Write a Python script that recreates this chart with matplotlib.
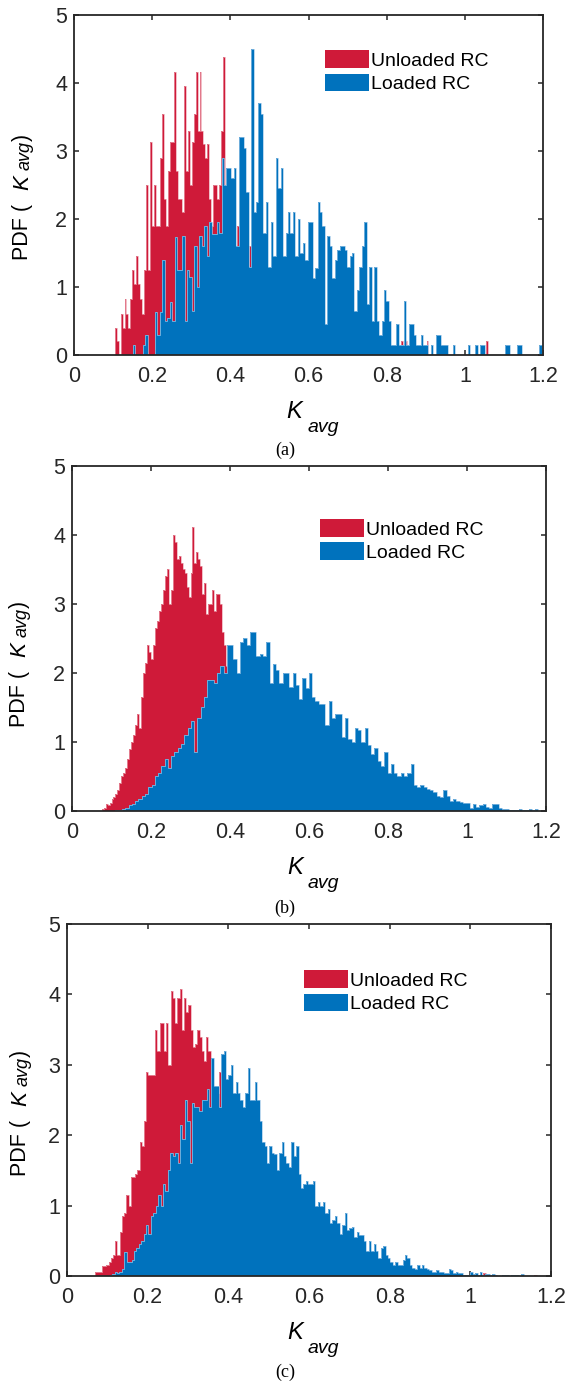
import numpy as np
import matplotlib
matplotlib.use('Agg')
import matplotlib.pyplot as plt
from matplotlib.patches import Patch
from matplotlib.transforms import ScaledTranslation

# 字体设置
plt.rcParams['font.family'] = ['Liberation Sans', 'DejaVu Sans']

# 数据（从图中读取的各柱高度，PDF）
series_names = ['Unloaded RC', 'Loaded RC']
x_ticks = [0, 0.2, 0.4, 0.6, 0.8, 1.0, 1.2]
x_tick_labels = ['0', '0.2', '0.4', '0.6', '0.8', '1', '1.2']
y_ticks = [0, 1, 2, 3, 4, 5]
captions = ['(a)', '(b)', '(c)']

# (a)
a_red_start, a_red_width = 0.104, 0.00505
a_red = [0.4, 0.2, 0.0, 0.6, 0.4, 0.83, 0.6, 0.4, 0.83, 1.25,
         1.05, 1.46, 1.05, 0.83, 0.6, 1.25, 2.5, 1.25, 3.13, 1.9,
         2.5, 1.9, 1.9, 2.9, 3.55, 2.3, 1.9, 2.7, 3.13, 3.13,
         4.17, 2.7, 2.3, 2.3, 2.1, 3.96, 2.7, 3.3, 2.5, 3.13,
         3.55, 4.17, 3.3, 4.17, 3.3, 3.1, 2.9, 3.1, 2.3, 1.9,
         2.5, 2.5, 2.3, 2.5, 3.3, 4.38, 2.1, 2.5,
         2.1, 1.7, 1.9, 1.5, 1.9, 1.2, 1.4, 1.1, 1.3, 0.9,
         1.6, 1.0, 1.0, 0.8, 0.9, 0.6, 0.8, 0.4, 0.6, 0.8,
         0.4, 0.6, 0.4, 0.4, 0.6, 0.2, 0.4, 0.2, 0.4, 0.2,
         0.2, 0.4, 0.2, 0.0, 0.2, 0.2, 0.0, 0.2, 0.2, 0.0,
         0.2, 0.0, 0.2] + [0.0] * 44 + [0.2, 0.0, 0.2, 0.0, 0.0, 0.2] \
        + [0.0] * 7 + [0.2] + [0.0] * 29 + [0.2]

a_blue_start, a_blue_width = 0.1506, 0.0063
a_blue = [0.15, 0.0, 0.0, 0.0, 0.15, 0.3, 0.0, 0.0, 0.0, 0.63,
          0.3, 0.63, 1.4, 0.5, 0.55, 0.78, 0.5, 1.74, 1.25, 1.25,
          1.75, 0.5, 1.25, 1.15, 0.65, 1.6, 1.0, 1.75, 1.6, 1.9,
          1.45, 1.95, 1.78, 1.78, 1.95, 1.8, 2.9, 2.5, 2.75, 2.75,
          2.6, 2.75, 1.6, 3.2, 3.2, 3.05, 2.4, 1.3, 4.5, 2.1,
          2.25, 3.7, 3.55, 1.8, 2.25, 1.3, 1.95, 1.45, 2.9, 2.45,
          2.75, 1.45, 1.8, 2.1, 1.8, 2.1, 1.45, 2.0, 1.5, 1.65,
          1.4,
          1.95, 1.95, 1.13, 1.28, 2.25, 2.1, 1.9, 0.45, 1.75, 1.6,
          1.13, 1.4, 1.55, 1.6, 1.6, 1.55, 1.3, 1.45, 1.5, 0.65,
          0.95, 1.3, 1.6, 1.95, 0.75, 1.3, 0.5, 1.3, 0.5, 0.3,
          0.5, 0.95, 0.8, 0.5, 0.15, 0.15, 0.45, 0.15, 0.15, 0.8,
          0.15, 0.45, 0.45, 0.3, 0.15, 0.15, 0.3, 0.15, 0.15, 0.0,
          0.15, 0.0, 0.3, 0.3, 0.15, 0.15, 0.15, 0.0, 0.0, 0.15,
          0.0, 0.0, 0.0, 0.0, 0.0, 0.15, 0.0, 0.0, 0.15, 0.0,
          0.15, 0.15, 0.0, 0.0, 0.0, 0.0, 0.0, 0.0, 0.0, 0.0,
          0.15, 0.15, 0.0, 0.0, 0.0, 0.15, 0.15, 0.0, 0.0, 0.0,
          0.0, 0.0, 0.0, 0.0, 0.15]

# (b)
b_red_start, b_red_width = 0.075, 0.005
b_red = [0.03, 0.05, 0.1, 0.08, 0.12, 0.18, 0.2, 0.25, 0.3, 0.4,
         0.5, 0.55, 0.62, 0.75, 0.9, 1.0, 1.1, 1.25, 1.4, 1.2,
         1.65, 2.0, 2.15, 2.4, 2.3, 2.2, 2.4, 2.65, 2.75, 2.9,
         3.0, 3.2, 3.4, 3.5, 3.0, 3.2, 4.0, 3.9, 3.65, 3.7,
         3.6, 3.5, 3.45, 3.25, 3.1, 3.45, 4.12, 3.6, 3.75, 3.65,
         3.55, 3.15, 3.3, 2.85, 3.0, 3.0, 3.2, 2.9, 3.15, 3.15,
         3.0, 2.6, 2.4, 2.1, 2.3, 2.0, 1.9,
         1.8, 1.7, 1.75, 1.6, 1.5, 1.55, 1.4, 1.3, 1.35, 1.2,
         1.1, 1.05, 1.0, 0.9, 0.85, 0.8, 0.75, 0.7, 0.6, 0.6,
         0.5, 0.5, 0.45, 0.4, 0.35, 0.35, 0.3, 0.25, 0.25, 0.2,
         0.2, 0.15, 0.15, 0.1, 0.1, 0.1, 0.05, 0.05, 0.05, 0.03]

b_blue_start, b_blue_width = 0.11, 0.0083
b_blue = [0.01, 0.02, 0.03, 0.05, 0.08, 0.1, 0.14, 0.18, 0.22, 0.25,
          0.35, 0.37, 0.5, 0.55, 0.65, 0.75, 0.62, 0.8, 0.85, 0.92,
          0.97, 1.1, 1.2, 1.3, 0.85, 1.35, 1.5, 1.65, 1.9, 1.9,
          1.85, 2.0, 2.1, 2.0, 2.4, 2.4, 2.2, 2.0, 2.45, 2.5,
          2.4, 2.6, 2.6, 2.25, 2.28, 2.25, 2.45, 1.85, 2.13, 2.05,
          1.85, 2.0, 2.0, 1.8, 2.0, 1.82, 1.62, 1.92, 1.78, 2.0,
          1.65, 1.6, 1.55, 1.55, 1.25, 1.6, 1.35, 1.4, 1.4, 1.07,
          1.35, 1.05, 1.0, 1.2, 1.18, 1.0, 1.2, 0.95, 0.82, 0.92,
          0.72, 0.65, 0.85, 0.55, 0.68, 0.55, 0.5, 0.55, 0.5, 0.55,
          0.68, 0.37, 0.35, 0.37, 0.35, 0.32, 0.3, 0.28, 0.22, 0.2,
          0.3, 0.22, 0.15, 0.18, 0.15, 0.13, 0.12, 0.12, 0.05, 0.1,
          0.06, 0.08, 0.1, 0.06, 0.05, 0.1, 0.1, 0.05, 0.03, 0.03,
          0.02, 0.02, 0.02, 0.03, 0.02, 0.02, 0.03, 0.02, 0.03]

# (c)
c_red_start, c_red_width = 0.07, 0.0055
c_red = [0.05, 0.05, 0.05, 0.14, 0.14, 0.16, 0.2, 0.25, 0.3, 0.5,
         0.3, 0.63, 0.85, 0.9, 1.15, 1.0, 1.4, 1.4, 1.45, 1.5,
         1.9, 1.85, 2.2, 2.9, 2.85, 2.85, 2.85, 3.5, 3.2, 3.6,
         3.6, 3.2, 3.6, 3.0, 4.05, 3.95, 3.6, 3.95, 4.07, 3.5,
         3.95, 3.75, 3.85, 3.5, 3.25, 3.3, 3.5, 3.4, 3.2, 3.05,
         3.4, 3.2, 3.0, 2.7, 2.7, 2.6, 2.9, 2.4, 2.3, 2.2,
         2.1, 2.0, 1.9, 1.85, 1.75, 1.6, 1.5, 1.4, 1.3, 1.2,
         1.1, 1.0, 0.9, 0.85, 0.8, 0.7, 0.6, 0.55, 0.5, 0.45,
         0.4, 0.35, 0.3, 0.28, 0.25, 0.2, 0.18, 0.15, 0.12, 0.1,
         0.1, 0.08, 0.06, 0.05, 0.04, 0.03, 0.02, 0.02] \
        + [0.0] * 77 + [0.04] + [0.0] * 22 + [0.02]

c_blue_start, c_blue_width = 0.106, 0.006
c_blue = [0.02, 0.03, 0.05, 0.04, 0.05, 0.1, 0.34, 0.2, 0.2, 0.22,
          0.35, 0.4, 0.45, 0.5, 0.6, 0.72, 0.6, 0.85, 0.9, 1.0,
          1.15, 1.0, 1.3, 1.2, 1.5, 1.75, 1.7, 1.75, 1.6, 2.15,
          1.95, 2.5, 2.2, 1.6, 2.45, 2.4, 2.4, 2.35, 2.5, 2.5,
          2.65, 2.4, 3.1, 2.7, 2.7, 2.4, 3.15, 3.2, 2.8, 2.85,
          3.0, 2.6, 2.75, 2.6, 2.5, 2.4, 2.6, 2.95, 2.5, 2.5,
          2.75, 2.5, 2.2, 1.9, 1.85, 1.6, 1.85, 1.75, 1.73, 1.5,
          1.75, 1.9, 1.7, 1.6, 1.55, 1.9, 1.7, 1.85, 1.45, 1.25,
          1.3, 1.35, 1.3, 1.3, 1.35, 1.0, 1.05, 1.0, 1.05, 0.9,
          0.95, 0.75, 0.8, 0.85, 0.75, 0.6, 0.73, 0.9, 0.65, 0.68,
          0.7, 0.55, 0.62, 0.58, 0.58, 0.5, 0.35, 0.5, 0.35, 0.45,
          0.35, 0.25, 0.4, 0.42, 0.3, 0.25, 0.2, 0.15, 0.2, 0.15,
          0.15, 0.22, 0.3, 0.25, 0.15, 0.12, 0.1, 0.15, 0.12, 0.15,
          0.12, 0.1, 0.08, 0.06, 0.05, 0.08, 0.05, 0.06, 0.04, 0.04,
          0.1, 0.08, 0.04, 0.05, 0.04, 0.04, 0.02, 0.01, 0.02, 0.05,
          0.03, 0.04, 0.02, 0.06, 0.02, 0.03, 0.03, 0.02, 0.03, 0.02,
          0.0, 0.0, 0.02, 0.01, 0.01, 0.0, 0.01, 0.02, 0.01, 0.0, 0.03]

RED = '#CF1A39'
RED_EDGE = '#EBA3AF'
BLUE = '#0072BD'
BLUE_EDGE = '#9CC6E8'
AXIS_COLOR = '#262626'


def draw_hist(ax, heights, start, width, face, edge, z):
    edges = start + width * np.arange(len(heights) + 1)
    ax.stairs(heights, edges, fill=True, color=face, linewidth=0, zorder=z)
    ax.stairs(heights, edges, color=edge, linewidth=0.5, zorder=z + 0.1)


def px_offset(ax, dx, dy):
    # 以像素为单位的偏移（dpi=100）
    return ax.transAxes + ScaledTranslation(dx / 100, dy / 100, ax.figure.dpi_scale_trans)


def draw_panel(ax, red, red_start, red_w, blue, blue_start, blue_w, leg_xy,
               caption, cap_y, ylab_dx, ylab_dy):
    draw_hist(ax, red, red_start, red_w, RED, RED_EDGE, 2)
    draw_hist(ax, blue, blue_start, blue_w, BLUE, BLUE_EDGE, 3)

    ax.set_xlim(0, 1.2)
    ax.set_ylim(0, 5)
    ax.set_xticks(x_ticks)
    ax.set_xticklabels(x_tick_labels)
    ax.set_yticks(y_ticks)
    ax.tick_params(direction='in', top=True, right=True, length=3.6, width=1.1,
                   labelsize=15.5, colors=AXIS_COLOR)
    ax.tick_params(axis='x', pad=8)
    ax.tick_params(axis='y', pad=5)
    for s in ax.spines.values():
        s.set_linewidth(1.3)
        s.set_color(AXIS_COLOR)
        s.set_zorder(5)

    # x 轴标签：K 斜体 + 下标 avg
    ax.text(0.5, 0, 'K', transform=px_offset(ax, -6, -63), ha='right',
            va='baseline', fontsize=17, style='italic')
    ax.text(0.5, 0, 'avg', transform=px_offset(ax, -1, -77), ha='left',
            va='baseline', fontsize=14, style='italic')

    # y 轴标签：PDF ( K_avg )，竖排
    pieces = [('PDF (', 0, 0, 15.5, 'normal'),
              ('K', 70, 0, 16, 'italic'),
              ('avg', 90, 2, 13, 'italic'),
              (')', 119, 0, 15.5, 'normal')]
    for txt, along, drop, size, style in pieces:
        ax.text(0, 0, txt, transform=px_offset(ax, ylab_dx + drop, ylab_dy + along),
                rotation=90, rotation_mode='anchor', ha='left', va='baseline',
                fontsize=size, style=style)

    handles = [Patch(facecolor=RED, edgecolor='none'),
               Patch(facecolor=BLUE, edgecolor='none')]
    ax.legend(handles, series_names, loc='upper left', bbox_to_anchor=leg_xy,
              frameon=False, fontsize=14, handlelength=2.27, handleheight=1.03,
              handletextpad=0.1, labelspacing=0.2, borderpad=0, borderaxespad=0)

    ax.figure.text(0.503, cap_y, caption, ha='center', va='center',
                   fontsize=13, family='Liberation Serif')


def main():
    fig = plt.figure(figsize=(5.67, 13.83), dpi=100)

    ax_a = fig.add_axes([0.1305, 0.7433, 0.8272, 0.2458])
    ax_b = fig.add_axes([0.1270, 0.4136, 0.8360, 0.2495])
    ax_c = fig.add_axes([0.1182, 0.0774, 0.8536, 0.2545])

    draw_panel(ax_a, a_red, a_red_start, a_red_width, a_blue, a_blue_start, a_blue_width,
               (0.535, 0.897), captions[0], 1 - 450 / 1383, -46, 95)
    draw_panel(ax_b, b_red, b_red_start, b_red_width, b_blue, b_blue_start, b_blue_width,
               (0.523, 0.846), captions[1], 1 - 908 / 1383, -47, 84)
    draw_panel(ax_c, c_red, c_red_start, c_red_width, c_blue, c_blue_start, c_blue_width,
               (0.490, 0.869), captions[2], 1 - 1372 / 1383, -41, 100)

    fig.savefig('out.png', dpi=100)


if __name__ == '__main__':
    main()
